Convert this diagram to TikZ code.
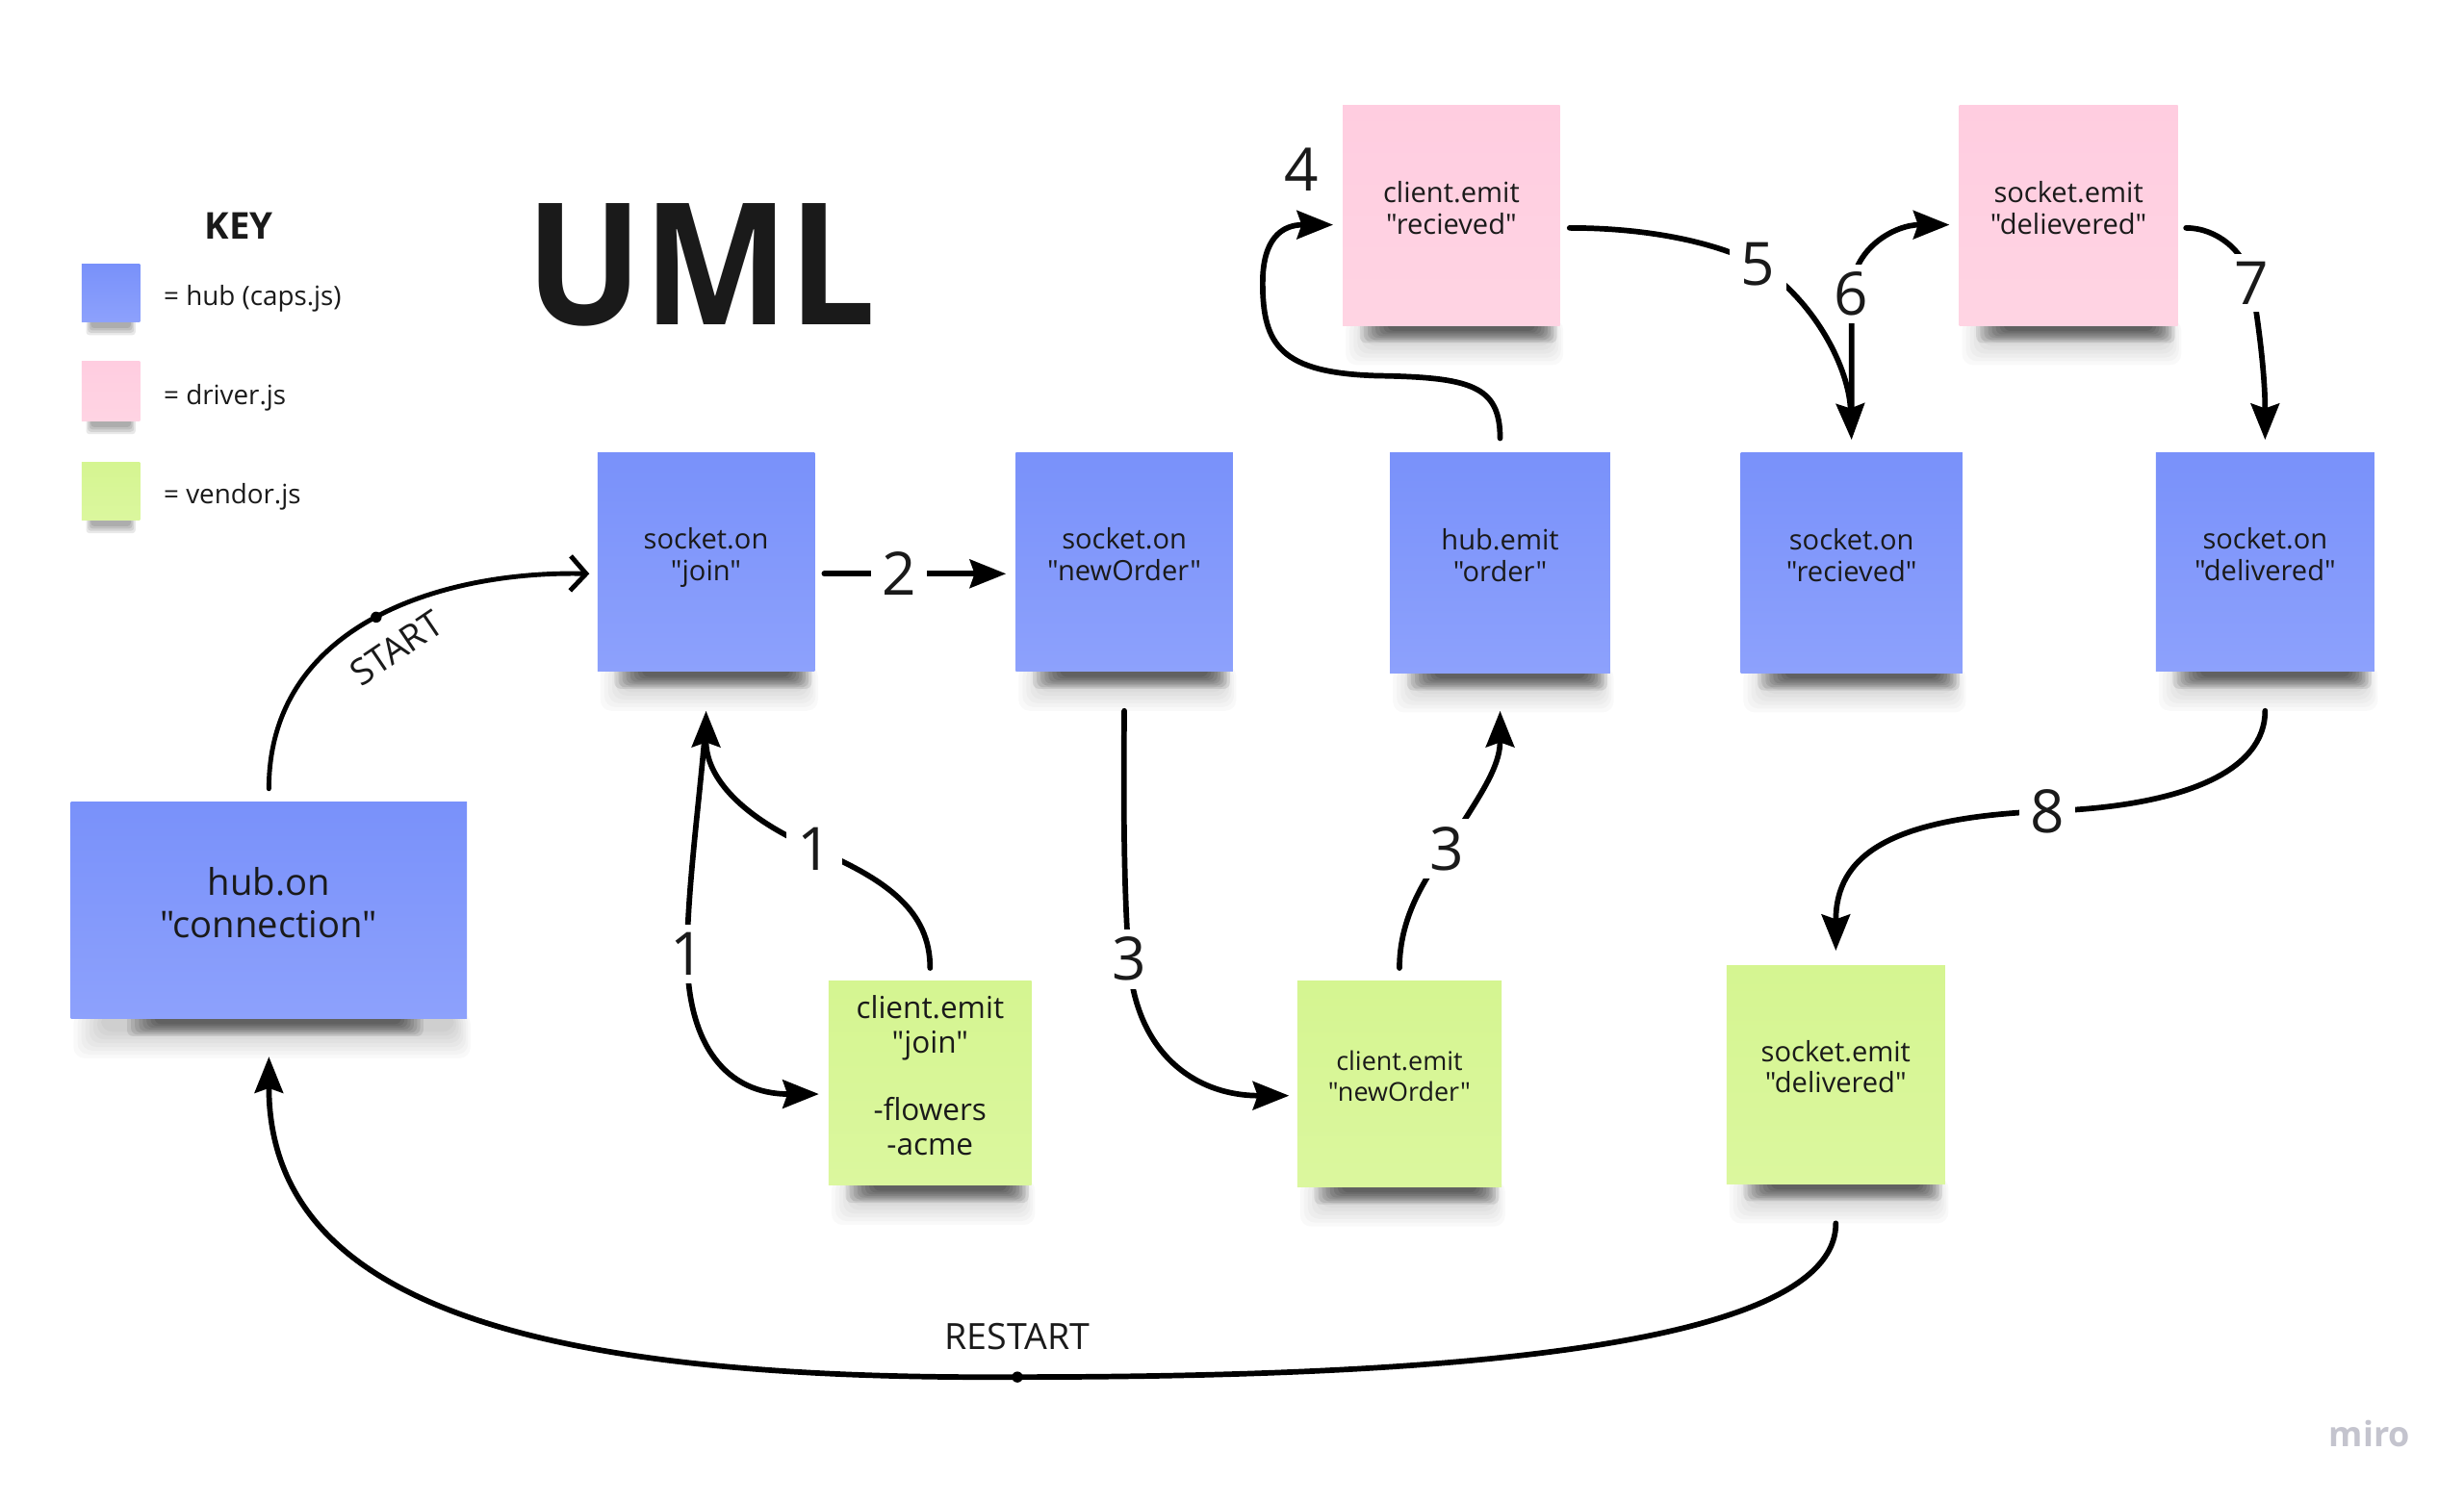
\documentclass[tikz,border=0pt]{standalone}
\usepackage{fontspec}
\setmainfont{Open Sans}[Ligatures=TeXOff]
\usetikzlibrary{arrows.meta,calc,backgrounds}
\definecolor{ink}{RGB}{26,26,26}
\definecolor{hubA}{RGB}{121,145,250}
\definecolor{hubB}{RGB}{141,161,252}
\definecolor{drvA}{RGB}{255,205,224}
\definecolor{drvB}{RGB}{255,212,227}
\definecolor{vndA}{RGB}{213,245,145}
\definecolor{vndB}{RGB}{219,247,158}
\definecolor{miroGray}{RGB}{196,196,206}
% soft shadow under a sticky note: #1 node, #2 left inset, #3 right inset of the dark core
\newcommand\noteshadow[3]{%
  \foreach \i in {0,...,7}{%
    \fill[black,opacity=0.022,rounded corners=7pt]
      ($(#1.south west)+(2+2.5*\i,-4)$) rectangle ($(#1.south east)+(2-1.5*\i,25-2.4*\i)$);
  }%
  \foreach \i in {0,...,7}{%
    \fill[black,opacity=0.085,rounded corners=4pt]
      ($(#1.south west)+(#2+2.5*\i,-4)$) rectangle ($(#1.south east)+(-#3-2*\i,11-1.1*\i)$);
  }}
\newcommand\keyshadow[1]{%
  \foreach \i in {0,...,3}{%
    \fill[black,opacity=0.09,rounded corners=2pt]
      ($(#1.south west)+(3+\i,-3)$) rectangle ($(#1.south east)+(-3-\i,8-1.5*\i)$);
  }}
\begin{document}
\begin{tikzpicture}[x=1pt,y=-1pt,
  sticky/.style={inner sep=0pt, align=center, text=ink, text depth=10pt, font=\fontsize{17.8}{20}\selectfont},
  hubnote/.style={sticky, top color=hubA, bottom color=hubB},
  drvnote/.style={sticky, top color=drvA, bottom color=drvB},
  vndnote/.style={sticky, top color=vndA, bottom color=vndB},
  flow/.style={line width=3.5pt, line cap=round, draw=black, -{Stealth[length=23pt,width=18pt,inset=3pt]}},
  startflow/.style={line width=3pt, line cap=round, draw=black, -{Straight Barb[length=10pt,width=22pt]}},
  num/.style={fill=white, inner xsep=7pt, inner ysep=5pt, text=ink, font=\fontsize{38}{38}\selectfont},
  dotnode/.style={circle, fill=black, inner sep=0pt, minimum size=7pt},
  lbl/.style={text=ink, inner sep=0pt, font=\fontsize{23}{24}\selectfont},
  keytext/.style={text=ink, inner sep=0pt, anchor=west, font=\fontsize{17}{19}\selectfont},
]
\useasboundingbox (0,0) rectangle (1567,955.5);

% legend
\node[text=ink, font=\fontsize{23.5}{24}\selectfont\bfseries] (keyt) at (152,144) {KEY};
\node[hubnote, minimum width=37pt, minimum height=37pt] (khub) at (70.5,186.5) {};
\node[drvnote, minimum width=37pt, minimum height=38pt] (kdrv) at (70.5,249) {};
\node[vndnote, minimum width=37pt, minimum height=37pt] (kvnd) at (70.5,312.5) {};
\node[keytext] (lhub) at (104,190) {= hub (caps.js)};
\node[keytext] (ldrv) at (104,253) {= driver.js};
\node[keytext] (lvnd) at (104,316) {= vendor.js};

% title
\node[text=ink, inner sep=0pt, font=\fontsize{108}{108}\selectfont\bfseries] (uml) at (446,168.5) {\scalebox{0.91}[1]{UML}};

% notes
\node[hubnote, minimum width=252pt, minimum height=138pt, font=\fontsize{23.4}{27}\selectfont] (conn) at (171,579) {hub.on\\"connection"};
\node[hubnote, minimum width=138pt, minimum height=139pt] (join) at (449,357.5) {socket.on\\"join"};
\node[hubnote, minimum width=138pt, minimum height=139pt] (neworder) at (715,357.5) {socket.on\\"newOrder"};
\node[hubnote, minimum width=140pt, minimum height=140pt] (order) at (954,358) {hub.emit\\"order"};
\node[hubnote, minimum width=141pt, minimum height=140pt] (recv) at (1177.5,358) {socket.on\\"recieved"};
\node[hubnote, minimum width=139pt, minimum height=139pt] (deliv) at (1440.5,357.5) {socket.on\\"delivered"};
\node[drvnote, minimum width=138pt, minimum height=140pt] (crecv) at (923,137) {client.emit\\"recieved"};
\node[drvnote, minimum width=139pt, minimum height=140pt] (sdeliv) at (1315.5,137) {socket.emit\\"delievered"};
\node[vndnote, minimum width=129pt, minimum height=130pt, font=\fontsize{19.3}{22}\selectfont] (cjoin) at (591.5,689) {client.emit\\"join"\\[21pt]-flowers\\-acme};
\node[vndnote, minimum width=130pt, minimum height=131pt, font=\fontsize{16.5}{19}\selectfont] (cneworder) at (890,689.5) {client.emit\\"newOrder"};
\node[vndnote, minimum width=139pt, minimum height=139pt] (cdeliv) at (1167.5,683.5) {socket.emit\\"delivered"};

% shadows + background
\begin{scope}[on background layer]
  \fill[white] (0,0) rectangle (1567,955.5);
  \noteshadow{conn}{36}{28}
  \foreach \n in {join,neworder,order,recv,deliv,crecv,sdeliv,cjoin,cneworder,cdeliv}{\noteshadow{\n}{11}{2}}
  \foreach \n in {khub,kdrv,kvnd}{\keyshadow{\n}}
\end{scope}

% START
\draw[startflow] ($(conn.north)+(0,-8)$) .. controls (171,395) and (285,363) .. ($(join.west)+(-5,7.5)$) node[pos=0.5, dotnode] (sdot) {};
\node[lbl, rotate=34] (start) at (252,412) {START};

% 2
\draw[flow] ($(join.east)+(6,7.5)$) -- node[num, pos=0.41] (n2) {2} ($(neworder.west)+(-6,7.5)$);

% 3 down
\draw[flow] ($(neworder.south)+(0,25)$) .. controls (714,540) and (716,585) .. (718,610) node[num] (n3a) {3} .. controls (722,670) and (760,697) .. ($(cneworder.west)+(-5,7.5)$);

% 3 up
\draw[flow] ($(cneworder.north)+(0,-8)$) .. controls (890,585) and (905,560) .. (920,540) node[num] (n3b) {3} .. controls (938,510) and (954,490) .. ($(order.south)+(0,24)$);

% 4 loop
\draw[flow] ($(order.north)+(0,-9)$) .. controls (954,245) and (935,240) .. (875,239) .. controls (815,237) and (803,220) .. (803,180) .. controls (803,152) and (815,143) .. ($(crecv.west)+(-6,6)$);
\node[num, fill=none] (n4) at (828,108) {4};

% 5
\draw[flow] ($(crecv.east)+(6,8)$) .. controls (1045,145) and (1088,153) .. (1118,168) node[num] (n5) {5} .. controls (1155,192) and (1176,235) .. ($(recv.north)+(0,-8)$);

% 6
\draw[flow] ($(recv.north)+(0,-14)$) -- (1177.5,187) node[num] (n6) {6} .. controls (1177.5,158) and (1205,143) .. ($(sdeliv.west)+(-6,6)$);

% 7
\draw[flow] ($(sdeliv.east)+(5,8)$) .. controls (1410,145) and (1428,160) .. (1432,180) node[num] (n7) {7} .. controls (1437,210) and (1440.5,240) .. ($(deliv.north)+(0,-8)$);

% 8
\draw[flow] ($(deliv.south)+(0,25)$) .. controls (1440.5,490) and (1390,513) .. (1302,516) node[num] (n8) {8} .. controls (1200,520) and (1167.5,545) .. ($(cdeliv.north)+(0,-9)$);

% 1 (vendor -> join)
\draw[flow] ($(cjoin.north)+(0,-8)$) .. controls (591.5,580) and (565,560) .. (518,540) node[num] (n1a) {1} .. controls (472,520) and (449,495) .. ($(join.south)+(0,25)$);

% 1 (join -> vendor)
\draw[flow] ($(join.south)+(0,31)$) .. controls (446,500) and (437,565) .. (437,607) node[num] (n1b) {1} .. controls (437,665) and (462,696) .. ($(cjoin.west)+(-6,7)$);

% RESTART
\draw[flow] ($(cdeliv.south)+(0,25)$) .. controls (1167.5,860) and (900,876) .. (647,876) node[dotnode] (rdot) {} .. controls (340,878) and (171,830) .. ($(conn.south)+(0,24)$);
\node[lbl] (restart) at (647,850) {RESTART};

% watermark
\node[text=miroGray, inner sep=0pt, font=\fontsize{22}{22}\selectfont\bfseries] (miro) at (1507,912) {miro};
\end{tikzpicture}
\end{document}
